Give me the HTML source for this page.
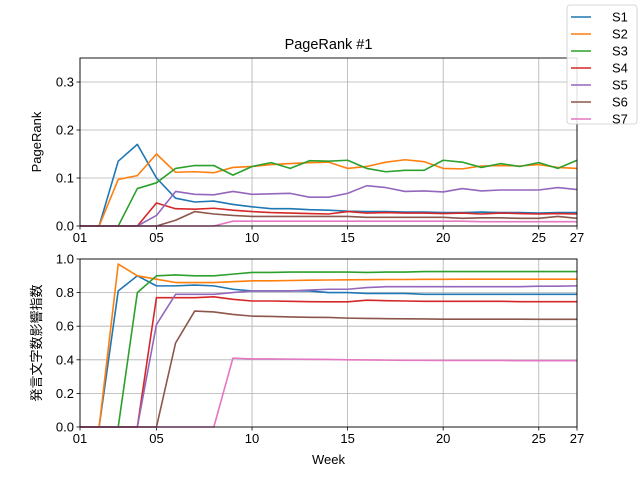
<!DOCTYPE html>
<html><head><meta charset="utf-8"><style>
body{margin:0;background:#fff;}
svg text{font-family:"Liberation Sans","Noto Sans CJK JP",sans-serif;}
</style></head><body>
<svg id="c" width="640" height="480" xmlns="http://www.w3.org/2000/svg"></svg>
<script>
const weeks=[1,2,3,4,5,6,7,8,9,10,11,12,13,14,15,16,17,18,19,20,21,22,23,24,25,26,27];
const xTickLabels=["01","05","10","15","20","25","27"];
const xTickWeeks=[1,5,10,15,20,25,27];
const topTicks=[0,0.1,0.2,0.3];
const botTicks=[0,0.2,0.4,0.6,0.8,1.0];
const seriesNames=["S1","S2","S3","S4","S5","S6","S7"];
const colors=["#1f77b4","#ff7f0e","#2ca02c","#d62728","#9467bd","#8c564b","#e377c2"];
const pr1=[0,0,0.135,0.17,0.1,0.058,0.05,0.052,0.045,0.04,0.036,0.036,0.034,0.033,0.031,0.03,0.03,0.029,0.029,0.028,0.028,0.029,0.028,0.028,0.027,0.028,0.028];
const pr2=[0,0,0.097,0.105,0.15,0.112,0.113,0.111,0.122,0.124,0.128,0.13,0.132,0.133,0.12,0.124,0.133,0.138,0.134,0.12,0.119,0.125,0.126,0.125,0.128,0.122,0.12];
const pr3=[0,0,0,0.078,0.09,0.12,0.126,0.126,0.106,0.124,0.132,0.12,0.136,0.135,0.137,0.12,0.113,0.116,0.116,0.137,0.133,0.122,0.13,0.124,0.132,0.12,0.137];
const pr4=[0,0,0,0,0.048,0.036,0.035,0.037,0.033,0.03,0.028,0.027,0.026,0.025,0.03,0.027,0.028,0.027,0.027,0.026,0.027,0.025,0.027,0.026,0.025,0.026,0.025];
const pr5=[0,0,0,0,0.022,0.072,0.066,0.065,0.072,0.066,0.067,0.068,0.06,0.06,0.068,0.084,0.08,0.072,0.073,0.071,0.078,0.073,0.075,0.075,0.075,0.08,0.076];
const pr6=[0,0,0,0,0,0.012,0.03,0.025,0.022,0.02,0.02,0.02,0.02,0.02,0.02,0.018,0.018,0.018,0.018,0.018,0.016,0.017,0.017,0.016,0.016,0.02,0.016];
const pr7=[0,0,0,0,0,0,0,0,0.01,0.01,0.01,0.01,0.01,0.01,0.01,0.01,0.01,0.01,0.01,0.01,0.01,0.009,0.009,0.009,0.009,0.009,0.009];
const inf1=[0,0,0.81,0.9,0.84,0.84,0.845,0.84,0.82,0.81,0.81,0.81,0.81,0.8,0.8,0.795,0.795,0.795,0.79,0.79,0.79,0.79,0.79,0.79,0.79,0.79,0.79];
const inf2=[0,0,0.97,0.9,0.88,0.86,0.86,0.86,0.865,0.87,0.87,0.872,0.874,0.875,0.876,0.877,0.878,0.878,0.879,0.879,0.88,0.88,0.88,0.88,0.88,0.88,0.88];
const inf3=[0,0,0,0.8,0.9,0.905,0.9,0.9,0.91,0.92,0.92,0.922,0.922,0.922,0.922,0.92,0.922,0.922,0.925,0.925,0.925,0.925,0.925,0.925,0.925,0.925,0.925];
const inf4=[0,0,0,0,0.77,0.77,0.77,0.775,0.76,0.75,0.75,0.748,0.746,0.745,0.745,0.755,0.752,0.75,0.748,0.748,0.748,0.748,0.748,0.746,0.746,0.746,0.746];
const inf5=[0,0,0,0,0.61,0.79,0.79,0.79,0.8,0.81,0.81,0.81,0.815,0.82,0.82,0.83,0.835,0.835,0.835,0.835,0.835,0.835,0.835,0.835,0.838,0.838,0.84];
const inf6=[0,0,0,0,0,0.5,0.69,0.685,0.67,0.66,0.658,0.655,0.653,0.652,0.648,0.646,0.645,0.644,0.643,0.642,0.642,0.642,0.642,0.642,0.641,0.641,0.641];
const inf7=[0,0,0,0,0,0,0,0,0.41,0.405,0.405,0.404,0.403,0.402,0.4,0.399,0.398,0.397,0.397,0.396,0.396,0.396,0.396,0.395,0.395,0.395,0.395];
const prSeries=[pr1,pr2,pr3,pr4,pr5,pr6,pr7];
const infSeries=[inf1,inf2,inf3,inf4,inf5,inf6,inf7];

const svg=document.getElementById('c');
const NS="http://www.w3.org/2000/svg";
function mk(tag,attrs,parent){const e=document.createElementNS(NS,tag);for(const k in attrs)e.setAttribute(k,attrs[k]);(parent||svg).appendChild(e);return e;}
const L=80,R=577;
const x=w=>L+(w-1)*(R-L)/26;
const yTop=v=>226-v*(226-58)/0.35;
const yBot=v=>427-v*(427-259)/1.0;

function panel(top,bottom,yf,ticks,fmt,series,nm){
  const g=mk('g',{});
  
  
  xTickWeeks.forEach((w,i)=>{
    const l=mk('line',{x1:x(w),x2:x(w),y1:top,y2:bottom,stroke:'#b0b0b0','stroke-width':0.8},g);
    
    
    mk('line',{x1:x(w),x2:x(w),y1:bottom,y2:bottom+3.5,stroke:'#000','stroke-width':0.8},g);
    const t=mk('text',{x:x(w),y:bottom+16,'text-anchor':'middle','font-size':13,fill:'#000'},g);
    t.textContent=xTickLabels[i];
    
    
  });
  ticks.forEach(v=>{
    const l=mk('line',{x1:L,x2:R,y1:yf(v),y2:yf(v),stroke:'#b0b0b0','stroke-width':0.8},g);
    
    
    mk('line',{x1:L-3.5,x2:L,y1:yf(v),y2:yf(v),stroke:'#000','stroke-width':0.8},g);
    const t=mk('text',{x:L-6,y:yf(v)+4.5,'text-anchor':'end','font-size':13,fill:'#000'},g);
    t.textContent=fmt(v);
    
    
  });
  series.forEach((s,i)=>{
    const p=mk('polyline',{points:s.map((v,j)=>x(weeks[j])+','+yf(v)).join(' '),fill:'none',stroke:colors[i],'stroke-width':1.6,'stroke-linejoin':'round'},g);
    
    
  });
  mk('rect',{x:L,y:top,width:R-L,height:bottom-top,fill:'none',stroke:'#000','stroke-width':0.9},g);
}
panel(58,226,yTop,topTicks,v=>v.toFixed(1),prSeries,'pagerank');
panel(259,427,yBot,botTicks,v=>v.toFixed(1),infSeries,'influence');

let t=mk('text',{x:328.5,y:49,'text-anchor':'middle','font-size':14.5});t.textContent='PageRank #1';


t=mk('text',{x:0,y:0,'text-anchor':'middle','font-size':13,transform:'translate(41,142) rotate(-90)'});t.textContent='PageRank';


t=mk('text',{x:0,y:0,'text-anchor':'middle','font-size':13,transform:'translate(41,343) rotate(-90)'});t.textContent='発言文字数影響指数';


t=mk('text',{x:328.5,y:464,'text-anchor':'middle','font-size':13});t.textContent='Week';



const lg=mk('g',{});


mk('rect',{x:567,y:5,width:70,height:119,rx:3,fill:'#fff','fill-opacity':0.85,stroke:'#ccc','stroke-width':0.8},lg);
seriesNames.forEach((n,i)=>{
  const yy=17+i*17;
  mk('line',{x1:571,x2:591,y1:yy,y2:yy,stroke:colors[i],'stroke-width':1.6},lg);
  const tt=mk('text',{x:612,y:yy+4.5,'font-size':13},lg);tt.textContent=n;
  
  
});
</script>
</body></html>
